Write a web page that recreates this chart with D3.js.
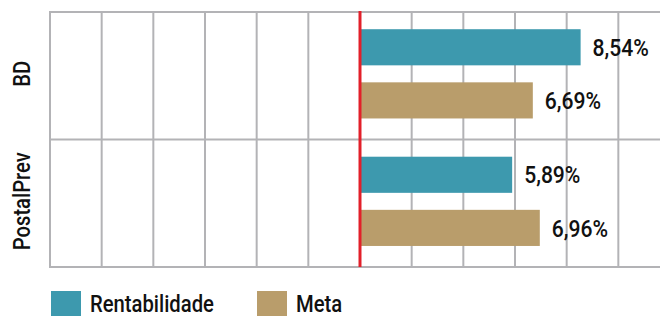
<!DOCTYPE html>
<html>
<head>
<meta charset="utf-8">
<script src="https://cdn.jsdelivr.net/npm/d3@7"></script>
<style>
  html, body { margin: 0; padding: 0; background: #fff; }
  svg { display: block; }
  text { font-family: Roboto, "Liberation Sans", Arial, sans-serif; font-weight: 500; fill: #111; }
</style>
</head>
<body>
<svg id="grafico" width="660" height="316"></svg>
<script>
// valores (%)
const planos = ["BD", "PostalPrev"];
const series = ["Rentabilidade", "Meta"];
const valoresRentabilidade = [8.54, 5.89];
const valoresMeta = [6.69, 6.96];
const rotulosRentabilidade = ["8,54%", "5,89%"];
const rotulosMeta = ["6,69%", "6,96%"];
const cores = ["#3d99ae", "#b99d6b"];
const ticksX = d3.range(-12, 13, 2);

const svg = d3.select("#grafico");
const width = +svg.attr("width");
const estreito = "scale(0.88,1)"; // fonte condensada

const x = d3.scaleLinear().domain([-12, 12]).range([50, 670]);
const y = d3.scaleBand().domain(planos).range([12, 267]);
const ySerie = d3.scaleBand().domain(series).range([0, y.bandwidth()])
  .paddingInner(0.32).paddingOuter(0.36).align(0.45);
const cor = d3.scaleOrdinal().domain(series).range(cores);

const dados = [];
planos.forEach((p, i) => {
  dados.push({ plano: p, serie: "Rentabilidade", valor: valoresRentabilidade[i], rotulo: rotulosRentabilidade[i] });
  dados.push({ plano: p, serie: "Meta", valor: valoresMeta[i], rotulo: rotulosMeta[i] });
});

// grade vertical
svg.append("g")
  .selectAll("line")
  .data(ticksX.filter(t => t !== 0))
  .join("line")
  .attr("x1", d => x(d)).attr("x2", d => x(d))
  .attr("y1", y.range()[0]).attr("y2", y.range()[1])
  .attr("stroke", "#b3b3b6")
  .attr("stroke-width", 2);

// linhas horizontais entre planos
const limites = [y.range()[0], ...planos.slice(1).map(p => y(p)), y.range()[1]];
svg.append("g")
  .selectAll("line")
  .data(limites)
  .join("line")
  .attr("x1", x(-12) - 1).attr("x2", width)
  .attr("y1", d => d).attr("y2", d => d)
  .attr("stroke", "#b3b3b6")
  .attr("stroke-width", 2);

// barras
svg.append("g")
  .selectAll("rect")
  .data(dados)
  .join("rect")
  .attr("x", x(0) + 1)
  .attr("y", d => y(d.plano) + ySerie(d.serie))
  .attr("width", d => x(d.valor) - x(0) - 1)
  .attr("height", ySerie.bandwidth())
  .attr("fill", d => cor(d.serie));

// linha do zero
svg.append("line")
  .attr("x1", x(0)).attr("x2", x(0))
  .attr("y1", y.range()[0] - 1).attr("y2", y.range()[1])
  .attr("stroke", "#e2202a")
  .attr("stroke-width", 3);

// rótulos de valor
svg.append("g")
  .selectAll("text")
  .data(dados)
  .join("text")
  .attr("transform", d => `translate(${x(d.valor) + 12},${y(d.plano) + ySerie(d.serie) + ySerie.bandwidth() / 2}) ${estreito}`)
  .attr("dy", "0.36em")
  .attr("font-size", "24px")
  .text(d => d.rotulo);

// nomes dos planos
svg.append("g")
  .selectAll("text")
  .data(planos)
  .join("text")
  .attr("transform", d => `translate(30,${y(d) + y.bandwidth() / 2 - 2}) rotate(-90) ${estreito}`)
  .attr("text-anchor", "middle")
  .attr("font-size", "23px")
  .text(d => d);

// legenda
const legenda = svg.append("g")
  .selectAll("g")
  .data(series)
  .join("g")
  .attr("transform", (d, i) => `translate(${[51, 257][i]},291)`);

legenda.append("rect")
  .attr("width", 30).attr("height", 30)
  .attr("fill", d => cor(d));

legenda.append("text")
  .attr("transform", `translate(39,21) ${estreito}`)
  .attr("font-size", "23px")
  .text(d => d);
</script>
</body>
</html>
